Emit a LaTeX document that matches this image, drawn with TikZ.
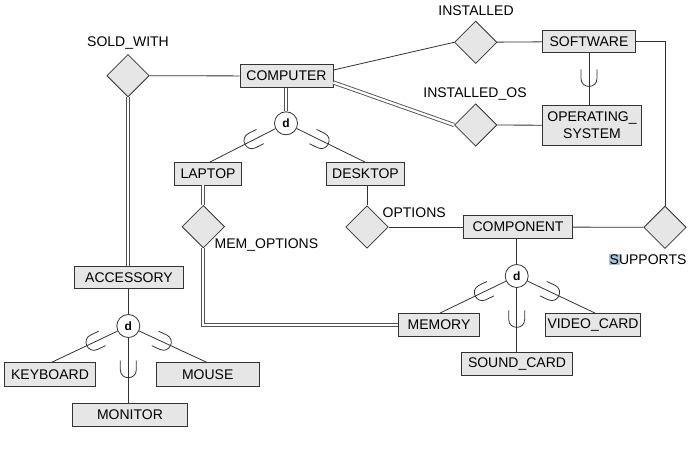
\documentclass[tikz,border=0pt]{standalone}
\usepackage{fontspec}
\setmainfont{Liberation Sans}
\usetikzlibrary{shapes.geometric,calc}
\definecolor{ln}{HTML}{333333}
\definecolor{bx}{HTML}{E6E6E6}
\definecolor{hl}{HTML}{A9C3DB}
\tikzset{
  ent/.style={draw=ln,fill=bx,line width=0.8pt,minimum height=22.5pt,inner sep=0pt,font=\fontsize{14}{16.5}\selectfont},
  rel/.style={draw=ln,fill=bx,line width=0.8pt,shape=diamond,minimum width=42.5pt,minimum height=42.5pt,inner sep=0pt},
  dcirc/.style={draw=ln,fill=white,circle,line width=0.8pt,minimum size=23pt,inner sep=0pt,font=\fontsize{12}{13}\selectfont\bfseries},
  lab/.style={font=\fontsize{14}{16}\selectfont,inner sep=0pt},
  conn/.style={draw=ln,line width=0.8pt},
  dbl/.style={draw=ln!85,line width=0.9pt,double=white,double distance=2.3pt},
  subset/.pic={\draw[ln,line width=0.8pt] (-8.5,-8) -- (0.5,-8) .. controls (11.2,-8) and (11.2,8) .. (0.5,8) -- (-8.5,8);},
  vsubset/.pic={\draw[ln,line width=0.8pt] (-8,-8.5) -- (-8,0.5) .. controls (-8,11.2) and (8,11.2) .. (8,0.5) -- (8,-8.5);}
}
\begin{document}
\begin{tikzpicture}[x=1pt,y=-1pt]
\useasboundingbox (0,0) rectangle (692,452);
% entities
\node[ent,minimum width=93pt] (computer) at (286.5,76) {COMPUTER};
\node[ent,minimum width=92.5pt] (software) at (589,41.5) {SOFTWARE};
\node[ent,minimum width=99pt,minimum height=40.5pt,align=center] (os) at (592,125.3) {OPERATING\_\\SYSTEM};
\node[ent,minimum width=67.5pt] (laptop) at (208,173.7) {LAPTOP};
\node[ent,minimum width=77.5pt] (desktop) at (365.5,173.7) {DESKTOP};
\node[ent,minimum width=109.5pt] (component) at (518,227) {COMPONENT};
\node[ent,minimum width=81pt] (memory) at (439,324.7) {MEMORY};
\node[ent,minimum width=95.5pt] (video) at (593,324.7) {VIDEO\_CARD};
\node[ent,minimum width=111pt,minimum height=23pt] (sound) at (517,364.2) {SOUND\_CARD};
\node[ent,minimum width=108.5pt] (accessory) at (129,277.2) {ACCESSORY};
\node[ent,minimum width=91.5pt,minimum height=24pt] (keyboard) at (50,374.7) {KEYBOARD};
\node[ent,minimum width=103.5pt,minimum height=24pt] (mouse) at (207.7,374.7) {MOUSE};
\node[ent,minimum width=114.5pt] (monitor) at (130,414.7) {MONITOR};
% relationships
\node[rel] (sold) at (128,75.7) {};
\node[rel] (installed) at (475.7,42.3) {};
\node[rel] (installedos) at (475.7,125) {};
\node[rel] (memopt) at (203.3,226.7) {};
\node[rel] (options) at (367,227) {};
\node[rel] (supports) at (665,227.3) {};
% labels
\node[lab] (l1) at (128,43) {SOLD\_WITH};
\node[lab] (l2) at (476,11) {INSTALLED};
\node[lab] (l3) at (475,94.3) {INSTALLED\_OS};
\node[lab,anchor=west] (l4) at (214.5,245) {MEM\_OPTIONS};
\node[lab,anchor=west] (l5) at (382.5,212.7) {OPTIONS};
\node[lab,anchor=west] (l6) at (609.5,259.3) {\setlength\fboxsep{0.6pt}\kern-0.6pt\colorbox{hl}{S}\kern-0.6pt UPPORTS};
% specialization circles
\node[dcirc] (d1) at (286,123.3) {d};
\node[dcirc] (d2) at (128.3,326) {d};
\node[dcirc] (d3) at (516.7,276) {d};
% connectors
\draw[conn] (sold) -- (computer);
\draw[dbl] (sold.south) -- (sold.south |- accessory.north);
\draw[conn] ($(computer.east)+(0,-6)$) -- (installed.west);
\draw[conn] (installed) -- (software);
\draw[dbl] ($(computer.east)+(0,6.5)$) -- (installedos.west);
\draw[conn] (installedos) -- (os);
\draw[conn] (software.south) -- pic[pos=0.48]{vsubset} (software.south |- os.north);
\draw[conn] (software.east) -| (supports.north);
\draw[conn] (supports) -- (component);
\draw[conn] (component) -- (options);
\draw[conn] (options.north) -- (options.north |- desktop.south);
\draw[dbl] (memopt.north) -- (memopt.north |- laptop.south);
\draw[dbl] (memopt.south) |- (memory.west);
\draw[dbl] (computer.south -| d1) -- (d1);
\draw[conn] (d1) -- pic[pos=0.35,sloped,allow upside down]{subset} ($(laptop.north)+(2,0)$);
\draw[conn] (d1) -- pic[pos=0.35,sloped,allow upside down]{subset} ($(desktop.north)+(-0.5,0)$);
\draw[conn] (accessory.south -| d2) -- (d2);
\draw[conn] (d2) -- pic[pos=0.35,sloped,allow upside down]{subset} ($(keyboard.north)+(1.7,0)$);
\draw[conn] (d2) -- pic[pos=0.35,sloped,allow upside down]{subset} ($(mouse.north)+(-1,0)$);
\draw[conn] (d2) -- pic[pos=0.48]{vsubset} (d2 |- monitor.north);
\draw[conn] (component.south -| d3) -- (d3);
\draw[conn] (d3) -- pic[pos=0.35,sloped,allow upside down]{subset} ($(memory.north)+(1,0)$);
\draw[conn] (d3) -- pic[pos=0.35,sloped,allow upside down]{subset} ($(video.north)+(2,0)$);
\draw[conn] (d3) -- pic[pos=0.48]{vsubset} (d3 |- sound.north);
\end{tikzpicture}
\end{document}
